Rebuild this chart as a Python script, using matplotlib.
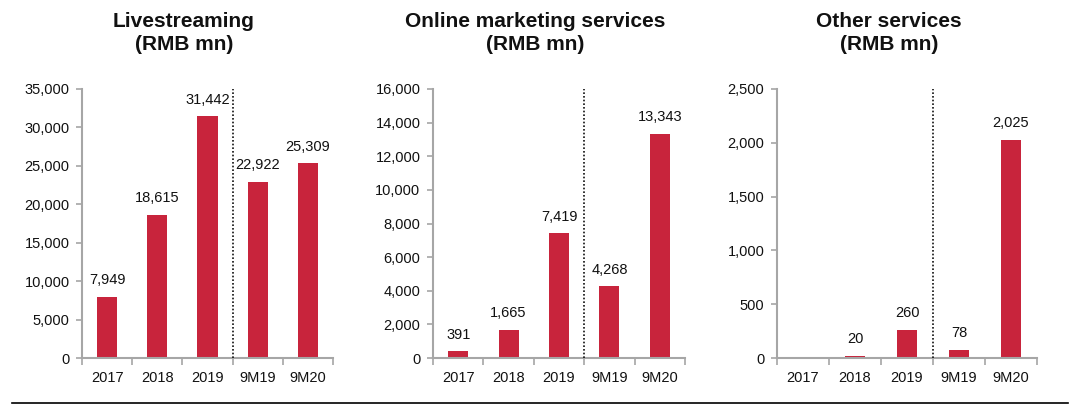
import matplotlib
matplotlib.use("Agg")
import matplotlib.pyplot as plt
from matplotlib.ticker import FuncFormatter, MultipleLocator
import numpy as np

plt.rcParams['font.family'] = ['Liberation Sans', 'DejaVu Sans']

periods = ["2017", "2018", "2019", "9M19", "9M20"]

livestreaming = [7949, 18615, 31442, 22922, 25309]
online_marketing = [391, 1665, 7419, 4268, 13343]
other_services = [0, 20, 260, 78, 2025]

panel_titles = ["Livestreaming\n(RMB mn)",
                "Online marketing services\n(RMB mn)",
                "Other services\n(RMB mn)"]
y_max = [35000, 16000, 2500]
y_step = [5000, 2000, 500]

BAR_COLOR = "#C8243C"
AXIS_COLOR = "#A6A6A6"

W, H = 1069, 405
fig = plt.figure(figsize=(W / 100, H / 100), dpi=100)

# axes boxes in pixels: left, right
boxes = [(82, 333), (433, 685), (777, 1037)]
title_centers = [184, 535, 889]
y0_px, ytop_px = 358, 89

series = [livestreaming, online_marketing, other_services]
x = np.arange(len(periods))

for i, (vals, (l, r)) in enumerate(zip(series, boxes)):
    ax = fig.add_axes([l / W, (H - y0_px) / H, (r - l) / W, (y0_px - ytop_px) / H])
    ax.bar(x, vals, width=0.4, color=BAR_COLOR, zorder=2)
    ax.set_xlim(-0.5, len(periods) - 0.5)
    ax.set_ylim(0, y_max[i])
    ax.yaxis.set_major_locator(MultipleLocator(y_step[i]))
    ax.yaxis.set_major_formatter(FuncFormatter(lambda v, p: f"{int(v):,}"))

    # category labels between boundary ticks
    ax.set_xticks(np.arange(-0.5, len(periods), 1.0))
    ax.set_xticklabels([])
    ax.set_xticks(x, minor=True)
    ax.set_xticklabels(periods, minor=True)
    ax.tick_params(axis="x", which="major", length=5, width=1.2, color=AXIS_COLOR, direction="out")
    ax.tick_params(axis="x", which="minor", length=0, pad=9, labelsize=10.5, labelcolor="#111111")
    ax.tick_params(axis="y", length=4, width=1.2, color=AXIS_COLOR, direction="out",
                   pad=5, labelsize=10.5, labelcolor="#111111")

    for side in ("top", "right"):
        ax.spines[side].set_visible(False)
    for side in ("left", "bottom"):
        ax.spines[side].set_color(AXIS_COLOR)
        ax.spines[side].set_linewidth(1.5)

    # divider between full years and nine-month periods
    ax.axvline(2.5, ymin=0, ymax=1.0, color="#111111", linestyle=(0, (1, 1.2)),
               linewidth=1.2, zorder=3)

    for xi, v in zip(x, vals):
        if v > 0:
            ax.annotate(f"{v:,}", (xi, v), xytext=(0, 7), textcoords="offset points",
                        ha="center", va="bottom", fontsize=10.5, color="#111111")

    fig.text(title_centers[i] / W, 1 - 12 / H, panel_titles[i], ha="center", va="top",
             fontsize=15, fontweight="bold", linespacing=1.3, color="#111111")

# rule along the bottom of the figure
fig.add_artist(plt.Line2D([12 / W, 1068 / W], [1 - 403 / H] * 2, color="black", linewidth=1.2))

fig.savefig("out.png", dpi=100)
